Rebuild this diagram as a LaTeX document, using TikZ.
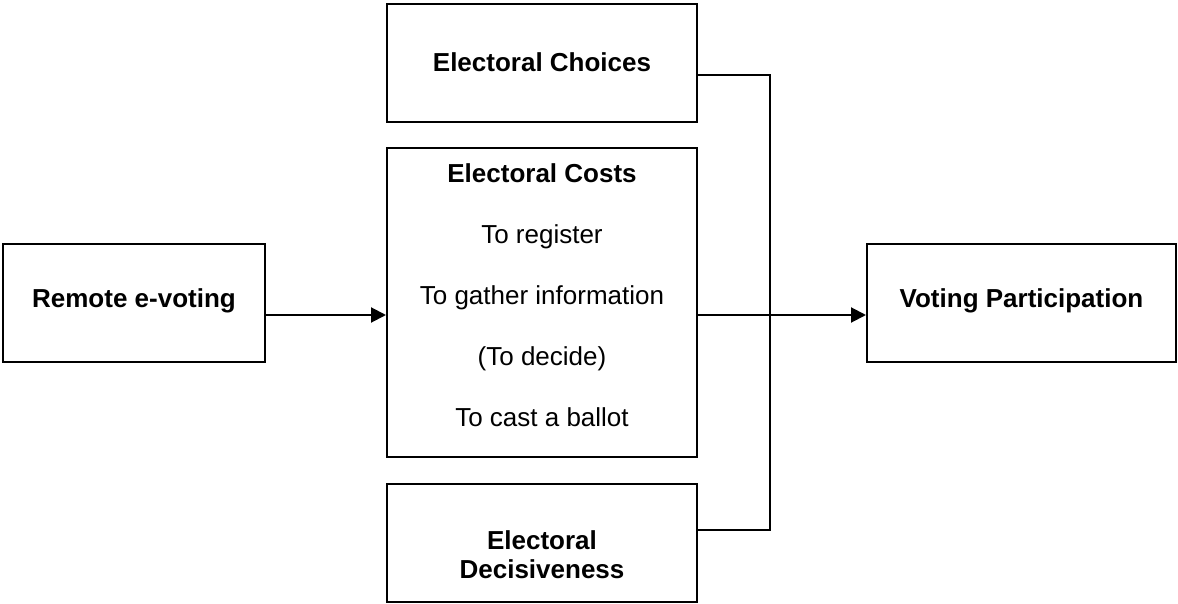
\documentclass[tikz,border=0pt]{standalone}
\usepackage{fontspec}
\setmainfont{Liberation Sans}
\usetikzlibrary{arrows.meta}
\tikzset{
  box/.style={draw, line width=1pt, inner sep=0pt},
  lbl/.style={align=center, inner sep=0pt, font=\fontsize{13}{14.5}\selectfont},
  link/.style={line width=1pt},
  feed/.style={line width=1pt, -{Triangle[length=7.5pt,width=7.5pt]}},
}
\begin{document}
\begin{tikzpicture}[x=0.5pt,y=-0.5pt]
\useasboundingbox (0,0) rectangle (1178,604);
\node[box, minimum width=131pt, minimum height=59pt] (remote) at (134,303){};
\node[lbl, font=\fontsize{13}{14.5}\bfseries] (remoteTxt) at (134,301){Remote e-voting};
\node[box, minimum width=155pt, minimum height=59pt] (choices) at (542,63){};
\node[lbl, font=\fontsize{13}{14.5}\bfseries] (choicesTxt) at (542,62){Electoral Choices};
\node[box, minimum width=155pt, minimum height=154.5pt] (costs) at (542,302.5){};
\node[lbl, font=\fontsize{13}{30.5}\selectfont] (costsTxt) at (542,295.5){\textbf{Electoral Costs}\\To register\\To gather information\\(To decide)\\To cast a ballot};
\node[box, minimum width=155pt, minimum height=59pt] (decis) at (542,543){};
\node[lbl, font=\fontsize{13}{14.5}\bfseries] (decisTxt) at (542,555){Electoral\\Decisiveness};
\node[box, minimum width=154.5pt, minimum height=59pt] (voting) at (1021.5,303){};
\node[lbl, font=\fontsize{13}{14.5}\bfseries] (votingTxt) at (1021.5,301){Voting Participation};
\coordinate (busTop) at (770,75);
\coordinate (busMid) at (770,315);
\coordinate (busBot) at (770,530);
\draw[link] (choices.east |- busTop) -- (busTop) -- (busBot) -- (decis.east |- busBot);
\draw[feed] (remote.east |- busMid) -- (costs.west |- busMid);
\draw[feed] (costs.east |- busMid) -- (voting.west |- busMid);
\end{tikzpicture}
\end{document}
